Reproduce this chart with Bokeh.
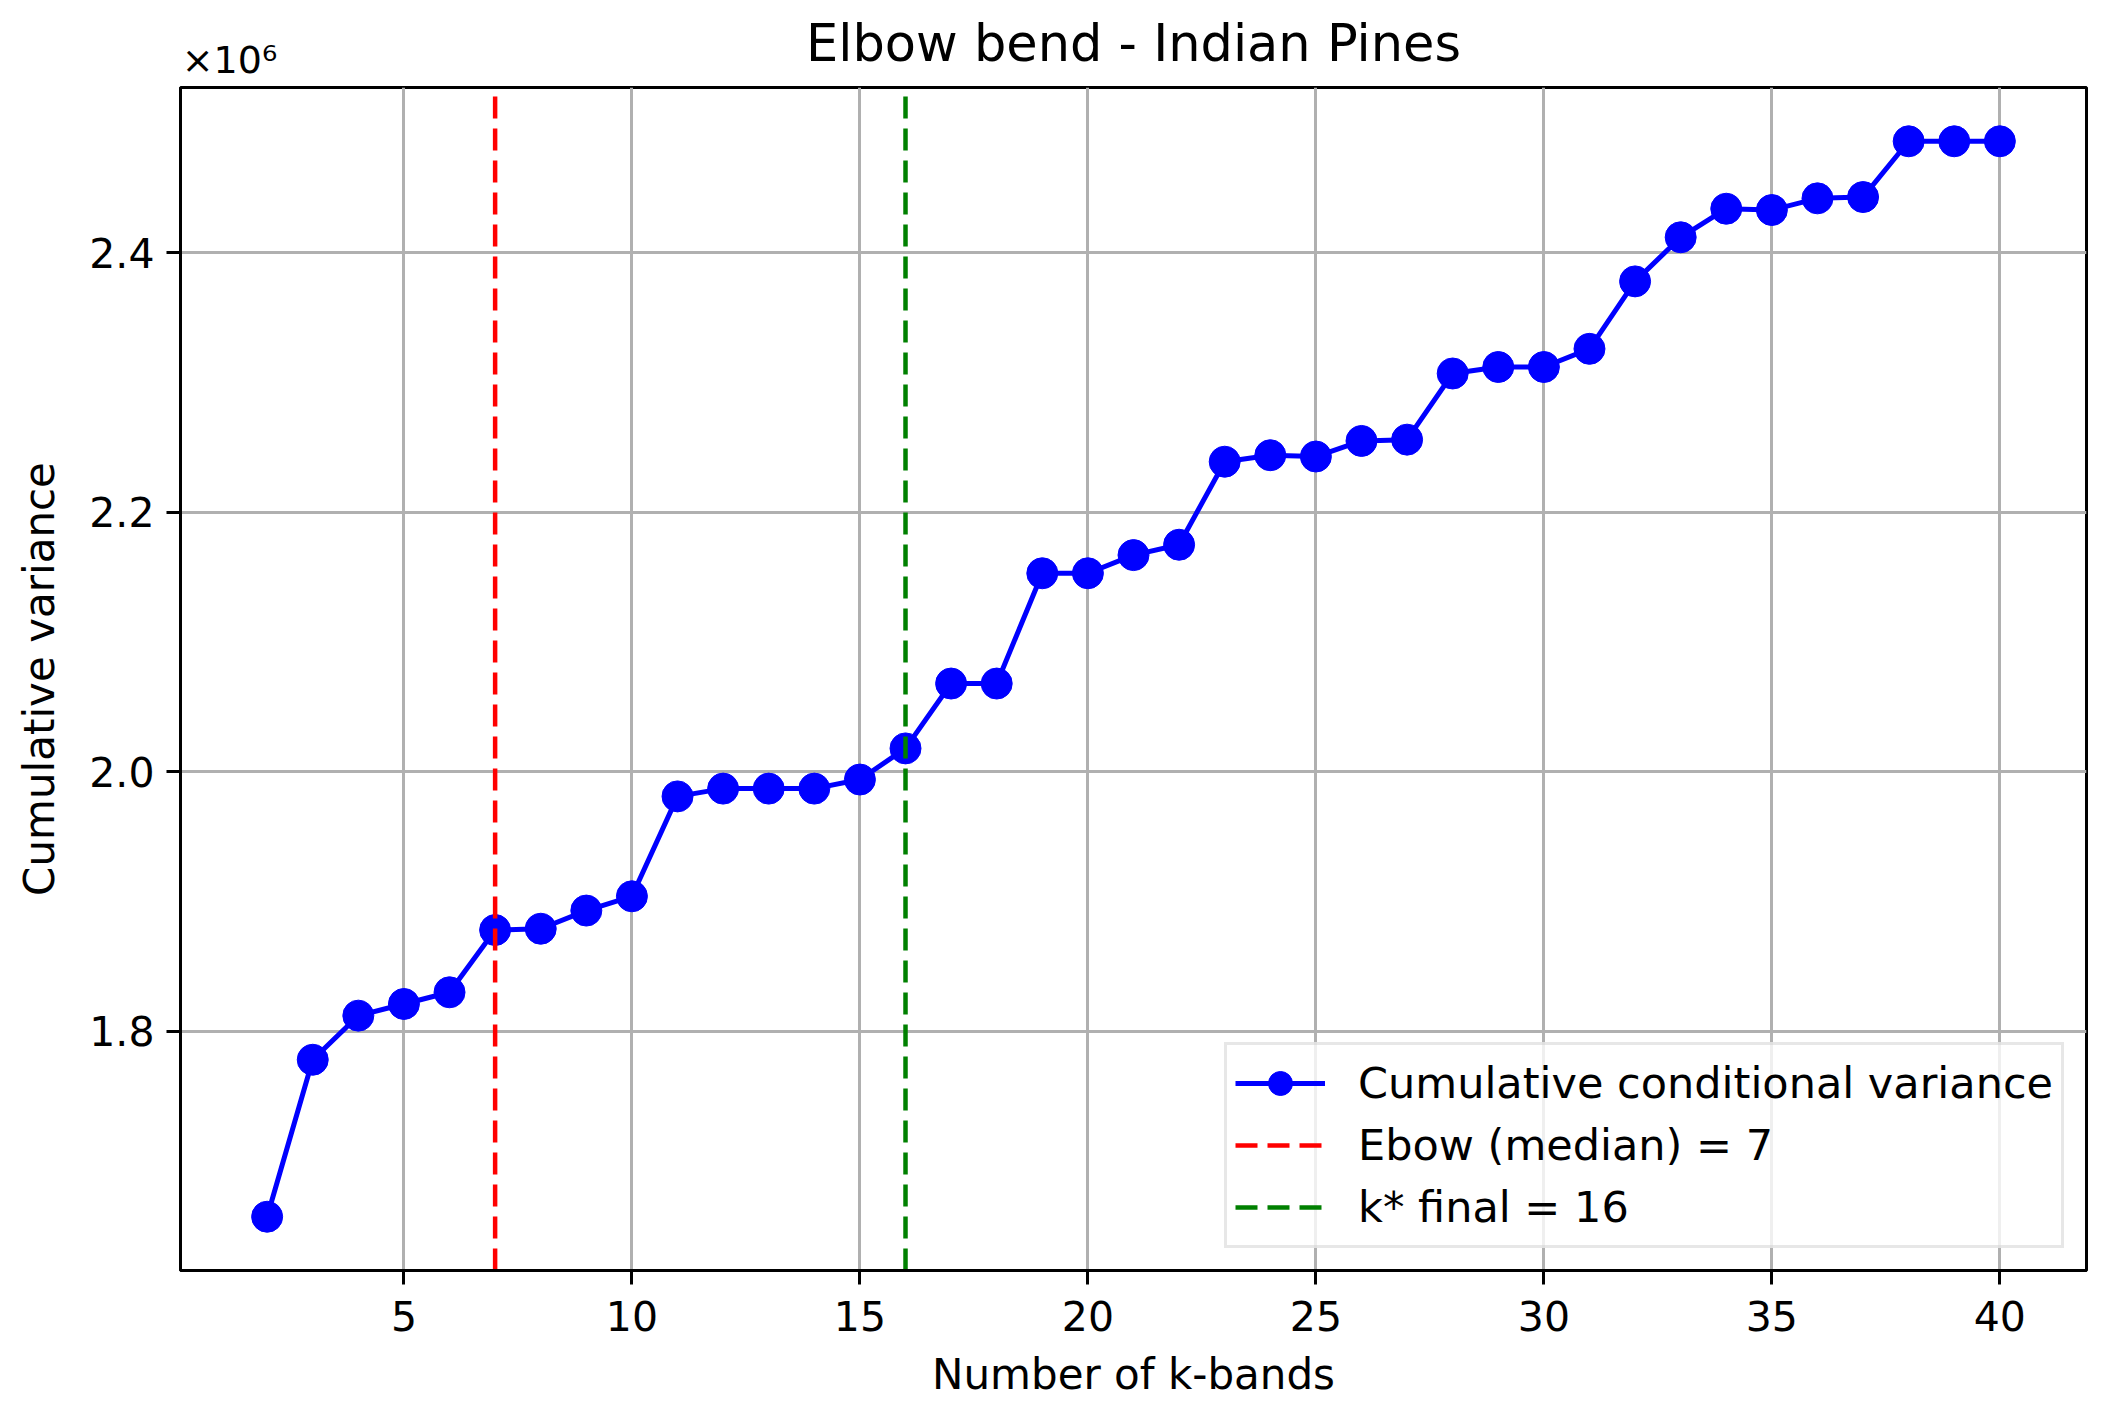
from bokeh.plotting import figure
from bokeh.models import (Legend, LegendItem, SingleIntervalTicker, FixedTicker,
                          CustomJSTickFormatter, Range1d, LinearAxis)
from bokeh.embed import file_html
from bokeh.resources import INLINE

# ---- data ----
k_bands = list(range(2, 41))
cum_variance = [
    1.657e6, 1.778e6, 1.812e6, 1.821e6, 1.830e6, 1.878e6, 1.879e6, 1.893e6, 1.904e6,
    1.981e6, 1.987e6, 1.987e6, 1.987e6, 1.994e6, 2.018e6, 2.068e6, 2.068e6, 2.153e6,
    2.153e6, 2.167e6, 2.175e6, 2.239e6, 2.244e6, 2.243e6, 2.255e6, 2.256e6, 2.307e6,
    2.312e6, 2.312e6, 2.326e6, 2.378e6, 2.412e6, 2.434e6, 2.433e6, 2.442e6, 2.443e6,
    2.486e6, 2.486e6, 2.486e6,
]
elbow_k = 7
k_final = 16
title_text = "Elbow bend - Indian Pines"
x_label = "Number of k-bands"
y_label = "Cumulative variance"
scale_text = "×10⁶"
legend_labels = ["Cumulative conditional variance",
                 f"Ebow (median) = {elbow_k}",
                 f"k* final = {k_final}"]

# ---- ranges with matplotlib-like 5% margins ----
xmin, xmax = min(k_bands), max(k_bands)
xm = (xmax - xmin) * 0.05
ymin, ymax = min(cum_variance), max(cum_variance)
ym = (ymax - ymin) * 0.05
x_lo, x_hi = xmin - xm, xmax + xm
y_lo, y_hi = ymin - ym, ymax + ym

FONT = "DejaVu Sans"
W, H = 2104, 1412
B_LEFT, B_TOP = 180, 87
FRAME_RIGHT, FRAME_BOTTOM = 2086, 1270
frame_w = FRAME_RIGHT - B_LEFT

p = figure(width=W, height=H, output_backend="svg", toolbar_location=None,
           x_range=Range1d(x_lo, x_hi), y_range=Range1d(y_lo, y_hi),
           min_border_left=B_LEFT, min_border_right=W - FRAME_RIGHT,
           min_border_top=B_TOP, min_border_bottom=H - FRAME_BOTTOM)
p.title.text = ""
p.title.visible = False

p.background_fill_color = "white"
p.border_fill_color = "white"
p.outline_line_color = "black"
p.outline_line_width = 3

xax = p.below[0]
yax = p.left[0]
for ax in (xax, yax):
    ax.axis_line_width = 3
    ax.axis_line_color = "black"
    ax.major_tick_line_width = 3
    ax.major_tick_out = 14
    ax.major_tick_in = 0
    ax.minor_tick_line_color = None
    ax.major_label_text_font = FONT
    ax.major_label_text_font_size = "41px"
    ax.major_label_text_color = "#000000"
    ax.axis_label_text_font = FONT
    ax.axis_label_text_font_size = "42px"
    ax.axis_label_text_font_style = "normal"
    ax.axis_label_text_color = "#000000"

xax.axis_label = x_label
yax.axis_label = y_label
xax.ticker = SingleIntervalTicker(interval=5)
yax.ticker = SingleIntervalTicker(interval=200000)
yax.formatter = CustomJSTickFormatter(code="return (tick/1e6).toFixed(1);")
xax.major_label_standoff = 16
yax.major_label_standoff = 12
xax.axis_label_standoff = 16
yax.axis_label_standoff = 22

p.grid.grid_line_color = "#b0b0b0"
p.grid.grid_line_width = 3

# ---- top band: "×10⁶" multiplier (as a tick label) and the chart title ----
scale_pos = x_lo + 49 * (x_hi - x_lo) / frame_w   # centre of the multiplier text
top = LinearAxis(ticker=FixedTicker(ticks=[scale_pos]),
                 formatter=CustomJSTickFormatter(code=f"return '{scale_text}';"),
                 axis_label=title_text)
top.axis_line_color = None
top.major_tick_line_color = None
top.minor_tick_line_color = None
top.major_tick_out = 0
top.major_tick_in = 0
top.major_label_standoff = 6
top.major_label_text_font = FONT
top.major_label_text_font_size = "38px"
top.major_label_text_color = "#000000"
top.axis_label_text_font = FONT
top.axis_label_text_font_size = "51px"
top.axis_label_text_font_style = "normal"
top.axis_label_text_color = "#000000"
top.axis_label_standoff = -38
p.add_layout(top, "above")

# ---- glyphs ----
r_line = p.line(k_bands, cum_variance, line_color="#0000ff", line_width=5)
r_pts = p.scatter(k_bands, cum_variance, marker="circle", size=31,
                  fill_color="#0000ff", line_color="#0000ff")
r_elbow = p.line([elbow_k, elbow_k], [y_lo, y_hi], line_color="#ff0000",
                 line_width=4.5, line_dash="22 10")
r_final = p.line([k_final, k_final], [y_lo, y_hi], line_color="#008000",
                 line_width=4.5, line_dash="22 10")

legend = Legend(items=[
    LegendItem(label=legend_labels[0], renderers=[r_line, r_pts]),
    LegendItem(label=legend_labels[1], renderers=[r_elbow]),
    LegendItem(label=legend_labels[2], renderers=[r_final]),
], location="bottom_right")
legend.margin = 22
legend.padding = 8
legend.spacing = 2
legend.glyph_width = 90
legend.glyph_height = 60
legend.label_standoff = 33
legend.label_text_font = FONT
legend.label_text_font_size = "43px"
legend.label_text_color = "#000000"
legend.border_line_color = "#d0d0d0"
legend.border_line_width = 3
legend.background_fill_alpha = 0.8
p.add_layout(legend, "center")

open("out.html", "w").write(file_html(p, INLINE))
